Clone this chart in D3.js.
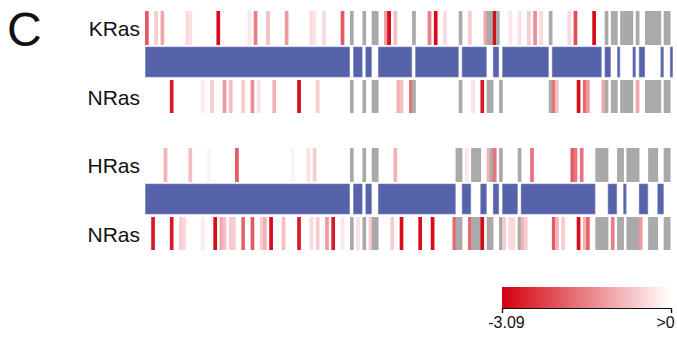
<!DOCTYPE html>
<html>
<head>
<meta charset="utf-8">
<script src="https://cdn.jsdelivr.net/npm/d3@7"></script>
<style>
  body { margin: 0; background: #fff; }
  text { font-family: "Liberation Sans", Arial, sans-serif; fill: #111; }
</style>
</head>
<body>
<svg id="plot"></svg>
<script>
// residue positions along the alignment
const positions = d3.range(1, 171);

// [position, score]; null = no data (grey)
const krasTop = [[1,-2.0],[4,-0.62],[6,-1.08],[14,-0.46],[15,-0.37],[24,-2.94],[34,-0.3],[36,-1.55],[40,-0.77],[46,-1.24],
  [54,-0.46],[55,-0.3],[58,-0.46],[64,-2.0],[67,null],[71,null],[74,null],[75,null],[78,-1.24],[79,-2.94],[81,-0.77],
  [87,null],[92,-1.55],[94,-2.94],[97,-0.46],[102,null],[105,-0.62],[110,-1.08],[111,null],[112,null],[113,-2.94],[114,null],
  [118,-0.3],[121,-0.37],[124,-0.62],[126,-1.39],[128,-0.46],[131,null],[137,-0.46],[139,-2.16],[145,-2.94],[149,null],
  [151,null],[152,null],[154,null],[155,null],[156,null],[157,null],[159,null],[162,null],[163,null],[164,null],[165,null],
  [166,null],[168,null],[169,null]];

const nrasTop = [[9,-2.78],[19,-0.25],[22,-0.62],[26,-1.24],[28,-0.77],[32,-0.62],[35,-1.39],[37,-0.37],[42,-0.93],[50,-2.94],
  [56,-0.62],[67,null],[71,null],[74,null],[75,null],[82,-0.93],[83,-0.77],[86,-1.7],[87,null],[102,null],[106,-0.37],
  [109,-2.78],[111,null],[112,null],[115,null],[131,null],[132,-1.7],[133,-0.77],[140,-2.94],[142,-1.85],[143,-1.24],
  [148,-1.08],[149,null],[151,null],[152,null],[154,null],[155,null],[156,null],[157,null],[159,-1.08],[162,null],[163,null],
  [164,null],[165,null],[166,null],[168,null],[169,null]];

const hrasBottom = [[7,-0.93],[15,-0.77],[21,-0.15],[30,-2.0],[48,-0.15],[53,-0.37],[55,-0.62],[67,null],[71,null],[74,null],
  [75,null],[81,-0.93],[101,null],[102,null],[104,-0.3],[106,null],[107,null],[108,null],[111,-0.93],[112,null],[113,-1.7],
  [115,null],[121,null],[125,-1.7],[138,-2.0],[139,-1.7],[141,-1.7],[146,null],[147,null],[148,null],[149,null],[153,null],
  [154,null],[156,null],[157,null],[158,null],[159,null],[163,null],[164,null],[165,null],[168,null],[169,null]];

const nrasBottom = [[3,-2.78],[9,-2.78],[12,-0.62],[13,-0.46],[19,-0.25],[23,-2.94],[25,-1.08],[26,-0.77],[28,-0.62],[29,-0.62],
  [32,-1.85],[35,-2.0],[38,-0.62],[39,-0.93],[41,-2.94],[45,-0.77],[50,-2.78],[54,-0.46],[56,-0.62],[59,-1.24],[61,-2.78],
  [64,-0.3],[67,null],[69,-0.37],[71,null],[73,-0.62],[74,null],[75,null],[80,-0.62],[83,-2.94],[89,-2.94],[93,-2.94],
  [100,-1.85],[101,null],[102,null],[105,-1.85],[106,null],[107,null],[108,null],[109,-2.94],[111,null],[112,null],[115,null],
  [116,-0.62],[118,-0.46],[119,-0.46],[121,null],[122,-0.93],[123,-0.62],[132,-2.0],[133,-0.93],[135,-0.62],[140,-2.94],
  [142,-0.93],[143,-1.85],[146,null],[147,null],[148,null],[149,null],[151,-1.55],[153,null],[154,null],[156,null],[157,null],
  [158,null],[159,null],[160,-1.24],[163,null],[164,null],[165,null],[168,null],[169,null]];

// aligned segments [first, last]
const blueTop = [[1,66],[68,70],[72,73],[76,86],[88,101],[103,110],[113,114],[116,130],[132,147],[149,150],[153,153],
  [158,158],[160,161],[167,167],[170,170]];
const blueBottom = [[1,66],[68,70],[72,73],[76,100],[103,105],[109,110],[113,114],[116,120],[122,145],[150,152],[155,155],
  [160,162],[166,167]];

const panelLabels = [["KRas", "NRas"], ["HRas", "NRas"]];
const legendTicks = [-3.09, 0];
const legendLabels = ["-3.09", ">0"];

const width = 677, height = 337;
const svg = d3.select("#plot").attr("width", width).attr("height", height);

const x = d3.scaleBand().domain(positions).range([145, 673]);
const color = d3.scaleLinear().domain([-3.09, 0]).range(["#d4000f", "#ffffff"]).clamp(true);

svg.append("text").attr("x", 7).attr("y", 46).style("font-size", "48px").text("C");

const panels = [
    { top: 11, upper: krasTop, lower: nrasTop, blue: blueTop, labels: panelLabels[0] },
    { top: 148, upper: hrasBottom, lower: nrasBottom, blue: blueBottom, labels: panelLabels[1] }
];

panels.forEach((p) => {
    const g = svg.append("g");
    const rows = [
        { data: p.upper, y: p.top, h: 34, label: p.labels[0] },
        { data: p.lower, y: p.top + 69, h: 33, label: p.labels[1] }
    ];
    rows.forEach((r) => {
        g.append("g")
            .selectAll("rect")
            .data(r.data)
            .join("rect")
            .attr("x", (d) => x(d[0]))
            .attr("y", r.y)
            .attr("width", x.bandwidth() + 0.6)
            .attr("height", r.h)
            .attr("fill", (d) => (d[1] === null ? "#a9a9a9" : color(d[1])));
        g.append("text")
            .attr("x", 140)
            .attr("y", r.y + r.h / 2 + 8)
            .attr("text-anchor", "end")
            .style("font-size", "21px")
            .text(r.label);
    });
    g.append("g")
        .selectAll("rect")
        .data(p.blue)
        .join("rect")
        .attr("x", (d) => x(d[0]) + 0.3)
        .attr("y", p.top + 36)
        .attr("width", (d) => x(d[1]) + x.bandwidth() - x(d[0]) - 0.6)
        .attr("height", 30)
        .attr("fill", "#5662aa")
        .attr("stroke", "#8089c2")
        .attr("stroke-width", 0.6);
});

// colour key
const lx = d3.scaleLinear().domain([-3.09, 0]).range([502, 671]);
const grad = svg.append("defs").append("linearGradient").attr("id", "key");
grad.selectAll("stop")
    .data(d3.range(0, 1.01, 0.1))
    .join("stop")
    .attr("offset", (t) => t)
    .attr("stop-color", (t) => color(-3.09 + 3.09 * t));
svg.append("rect")
    .attr("x", lx(-3.09)).attr("y", 287)
    .attr("width", lx(0) - lx(-3.09)).attr("height", 21)
    .attr("fill", "url(#key)");
const axis = svg.append("g")
    .attr("transform", "translate(0,308)")
    .call(d3.axisBottom(lx).tickValues(legendTicks).tickSize(5).tickFormat((d, i) => legendLabels[i]));
axis.select(".domain").attr("stroke", "#111").attr("stroke-width", 1.2);
axis.selectAll(".tick line").attr("stroke", "#111").attr("stroke-width", 1.2);
axis.selectAll(".tick text")
    .attr("y", 9)
    .attr("dx", (d, i) => (i === 0 ? 4 : -6))
    .style("font-size", "16px")
    .style("font-family", "Liberation Sans, Arial, sans-serif")
    .attr("fill", "#111");
</script>
</body>
</html>
